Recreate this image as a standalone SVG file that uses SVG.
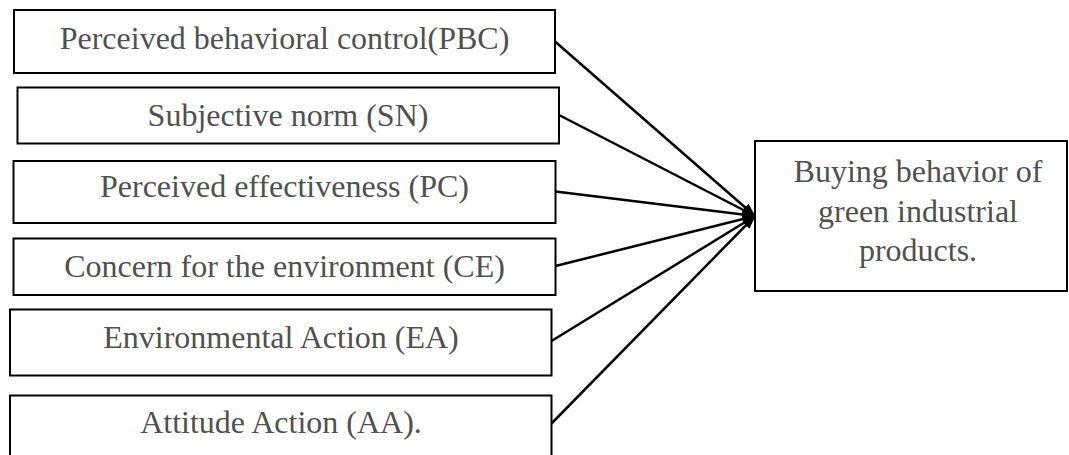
<svg xmlns="http://www.w3.org/2000/svg" width="1069" height="455" viewBox="0 0 1069 455">
<style>
.box{fill:#fff;stroke:#000;stroke-width:2}
.t{font-family:"Liberation Serif","Times New Roman",serif;font-size:32px;fill:#505050;text-anchor:middle}
.c{stroke:#000;stroke-width:2.5;fill:none;marker-end:url(#arr)}
</style>
<defs>
<marker id="arr" viewBox="0 0 14 10" refX="13" refY="5" markerWidth="14" markerHeight="10" markerUnits="userSpaceOnUse" orient="auto">
<path d="M0,0 L14,5 L0,10 z" fill="#000"/>
</marker>
</defs>
<rect width="1069" height="455" fill="#fff"/>
<g id="n1"><rect class="box" x="14" y="10" width="541" height="63"/><text class="t" x="284.5" y="49">Perceived behavioral control(PBC)</text></g>
<g id="n2"><rect class="box" x="17.5" y="87.5" width="541.5" height="56"/><text class="t" x="288" y="126">Subjective norm (SN)</text></g>
<g id="n3"><rect class="box" x="13.5" y="161" width="542" height="62"/><text class="t" x="284.5" y="197">Perceived effectiveness (PC)</text></g>
<g id="n4"><rect class="box" x="13.5" y="238.5" width="542" height="56.5"/><text class="t" x="284.5" y="277">Concern for the environment (CE)</text></g>
<g id="n5"><rect class="box" x="10" y="309.5" width="541.5" height="66"/><text class="t" x="281" y="348">Environmental Action (EA)</text></g>
<g id="n6"><rect class="box" x="10" y="395.5" width="541.5" height="70"/><text class="t" x="281" y="433">Attitude Action (AA).</text></g>
<g id="target"><rect class="box" x="755" y="141" width="312" height="150"/>
<text class="t" x="918" y="182">Buying behavior of</text>
<text class="t" x="918" y="222">green industrial</text>
<text class="t" x="918" y="261">products.</text></g>
<g id="connectors">
<line class="c" x1="555" y1="41.5" x2="755" y2="216"/>
<line class="c" x1="559" y1="115" x2="755" y2="216"/>
<line class="c" x1="555.5" y1="191.5" x2="755" y2="216"/>
<line class="c" x1="555.5" y1="266" x2="755" y2="216"/>
<line class="c" x1="551.5" y1="341" x2="755" y2="216"/>
<line class="c" x1="551.5" y1="423.5" x2="755" y2="216"/>
</g>
</svg>
